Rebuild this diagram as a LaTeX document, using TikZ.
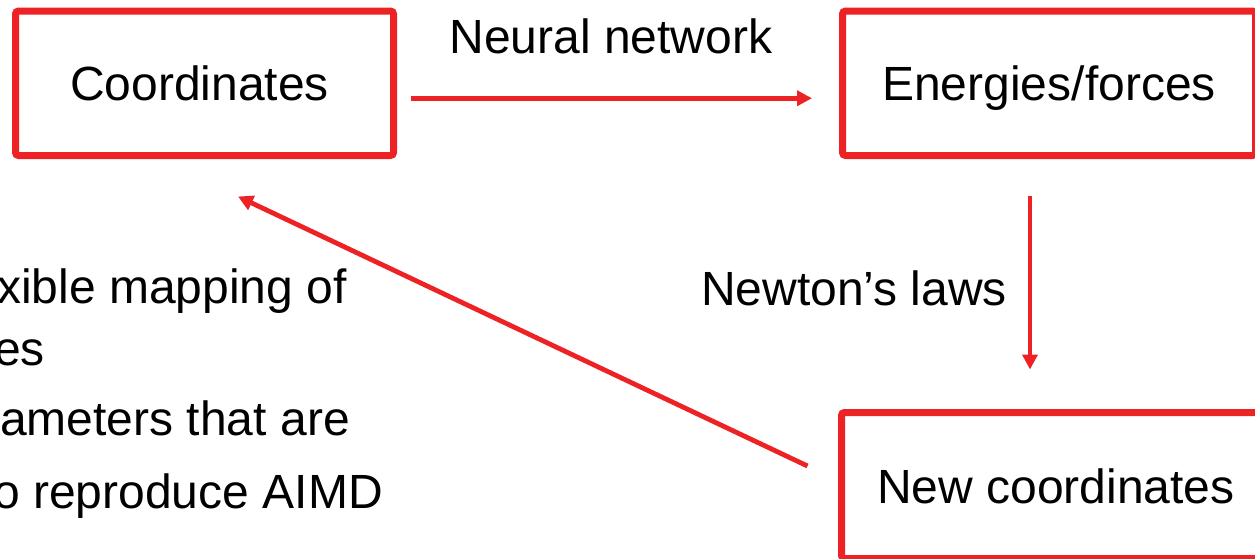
\documentclass[tikz,border=0pt]{standalone}
\usepackage{fontspec}
\setmainfont{Liberation Sans}
\usetikzlibrary{arrows.meta}
\definecolor{boxred}{RGB}{237,34,36}
\begin{document}
\begin{tikzpicture}[x=1pt,y=-1pt,
  redbox/.style={draw=boxred,line width=7pt,rounded corners=3pt,fill=white,
    text height=35pt,text depth=0pt,inner sep=0pt},
  arr/.style={draw=boxred,line width=4.8pt,-{Triangle[length=15pt,width=15pt]}},
  lbl/.style={anchor=base,inner sep=0pt},
  side/.style={anchor=base east,inner sep=0pt}]
\useasboundingbox (0,0) rectangle (1255,558);
\clip (0,0) rectangle (1255,558);
\fontsize{48}{58}\selectfont
\node[redbox,minimum width=378pt,minimum height=144.5pt] (coord) at (204.5,83.25) {Coordinates\kern10pt\null};
\node[redbox,minimum width=413pt,minimum height=144.5pt] (energ) at (1049,83.25) {Energies/forces};
\node[redbox,minimum width=429pt,minimum height=146pt] (newc) at (1056,485.5) {New coordinates};
\node[lbl] (nn) at (611,53) {Neural network};
\node[lbl] (nl) at (854,305) {Newton’s laws};
\draw[arr] ([shift={(14,15)}]coord.east) -- ([shift={(-27,15)}]energ.west);
\draw[arr] ([shift={(-19,37)}]energ.south) -- ([shift={(-26,-39.5)}]newc.north);
\draw[arr] ([shift={(-30.5,-19.5)}]newc.west) -- ([shift={(33.5,37.5)}]coord.south);
\node[side] (t1) at (347,303) {Flexible mapping of};
\node[side] (t2) at (45,365) {energies};
\node[side] (t3) at (350,435) {Parameters that are};
\node[side] (t4) at (383,508) {trained to reproduce AIMD};
\end{tikzpicture}
\end{document}
